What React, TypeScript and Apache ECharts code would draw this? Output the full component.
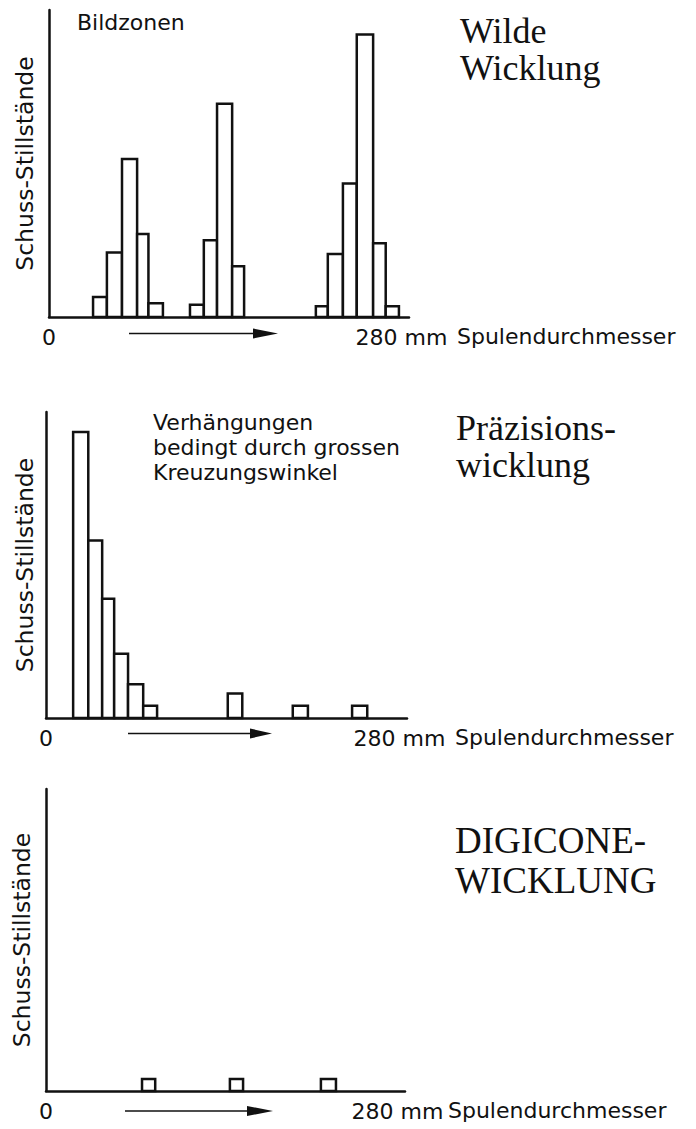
import React, { useEffect, useRef } from "react";
import * as echarts from "echarts";

// ---- Data (x in mm of coil diameter, heights in relative weft-stop counts) ----
const xTickLabels = ["0", "280 mm"];
const xAxisName = "Spulendurchmesser";
const yAxisName = "Schuss-Stillstände";

const panelTitles = ["Wilde\nWicklung", "Präzisions-\nwicklung", "DIGICONE-\nWICKLUNG"];

// Panel 1: Wilde Wicklung (three pattern zones)
const wildeFrom = [35, 46, 58, 70, 79, 112, 123, 133.5, 145.5, 212, 221.5, 233.5, 244.5, 257.5, 267.5];
const wildeTo = [46, 58, 70, 79, 90.5, 123, 133.5, 145.5, 155, 221.5, 233.5, 244.5, 257.5, 267.5, 278];
const wildeHeight = [6.5, 21, 51.5, 27, 4.5, 4, 25, 69.5, 16.5, 3.5, 20.5, 43.5, 92, 24, 3.5];

// Panel 2: Präzisionswicklung
const praezFrom = [21.5, 33.5, 44.5, 54, 65, 77, 144, 195.5, 242.5];
const praezTo = [33.5, 44.5, 54, 65, 77, 88, 155.5, 207.5, 254.5];
const praezHeight = [93.5, 58, 39, 21, 11, 4, 8, 4, 4];

// Panel 3: DIGICONE-Wicklung
const digiFrom = [76.5, 146.5, 219];
const digiTo = [87, 157, 231];
const digiHeight = [4, 4, 4];

const annotation1 = "Bildzonen";
const annotation2 = "Verhängungen\nbedingt durch grossen\nKreuzungswinkel";

const X_MAX = 286;
const Y_MAX = 100;

function rows(from: number[], to: number[], h: number[]) {
  return from.map((f, i) => [f, to[i], h[i]]);
}

const panelData = [
  rows(wildeFrom, wildeTo, wildeHeight),
  rows(praezFrom, praezTo, praezHeight),
  rows(digiFrom, digiTo, digiHeight),
];

// layout
const grids = [
  { left: 49, top: 10, width: 360, height: 307 },
  { left: 46, top: 412, width: 361, height: 306 },
  { left: 46, top: 789, width: 359, height: 305 },
];
const nameGapsX = [48, 48, 43];
const nameGapsY = [12, 9, 12];

const INK = "#111";
const SANS = "DejaVu Sans";
const SERIF = "Liberation Serif";

export default function App() {
  const ref = useRef<HTMLDivElement>(null);

  useEffect(() => {
    if (!ref.current) return;
    const chart = echarts.init(ref.current, undefined, { renderer: "svg" });

    const renderItem = (params: any, api: any) => {
      const x0 = api.value(0);
      const x1 = api.value(1);
      const h = api.value(2);
      const p0 = api.coord([x0, 0]);
      const p1 = api.coord([x1, h]);
      return {
        type: "rect",
        shape: { x: p0[0], y: p1[1], width: p1[0] - p0[0], height: p0[1] - p1[1] },
        style: { fill: "#fff", stroke: INK, lineWidth: 2.5 },
      };
    };

    const titleCenters = [
      { x: 460, y: 49.5, size: 36, lh: 37 },
      { x: 456, y: 446.5, size: 36, lh: 37 },
      { x: 455, y: 860, size: 37, lh: 40 },
    ];

    const arrows = [
      { x1: 129, x2: 256, y: 333.5, hb: 253, tip: 278 },
      { x1: 128, x2: 252, y: 733.5, hb: 250, tip: 272 },
      { x1: 125, x2: 250, y: 1111, hb: 247, tip: 273 },
    ];

    const graphic: any[] = [];
    titleCenters.forEach((t, i) => {
      graphic.push({
        type: "text",
        x: t.x,
        y: t.y,
        style: {
          text: panelTitles[i],
          fontFamily: SERIF,
          fontSize: t.size,
          lineHeight: t.lh,
          fill: INK,
          align: "left",
          verticalAlign: "middle",
        },
      });
    });
    arrows.forEach((a) => {
      graphic.push({
        type: "line",
        shape: { x1: a.x1, y1: a.y, x2: a.x2, y2: a.y },
        style: { stroke: INK, lineWidth: 1.6 },
      });
      graphic.push({
        type: "polygon",
        shape: { points: [[a.hb, a.y - 5], [a.tip, a.y], [a.hb, a.y + 5]] },
        style: { fill: INK },
      });
    });
    graphic.push({
      type: "text",
      x: 77,
      y: 22.4,
      style: { text: annotation1, fontFamily: SANS, fontSize: 22, fill: INK, align: "left", verticalAlign: "middle" },
    });
    graphic.push({
      type: "text",
      x: 153,
      y: 447.5,
      style: {
        text: annotation2,
        fontFamily: SANS,
        fontSize: 22,
        lineHeight: 25,
        fill: INK,
        align: "left",
        verticalAlign: "middle",
      },
    });

    const option: any = {
      animation: false,
      backgroundColor: "#fff",
      textStyle: { fontFamily: SANS },
      grid: grids,
      xAxis: grids.map((_, i) => ({
        type: "value",
        gridIndex: i,
        min: 0,
        max: X_MAX,
        interval: 280,
        axisLine: { show: true, onZero: false, lineStyle: { color: INK, width: 2.5 } },
        axisTick: { show: false },
        splitLine: { show: false },
        axisLabel: {
          margin: 9,
          fontSize: 22,
          color: INK,
          fontFamily: SANS,
          formatter: (v: number) => (v === 0 ? xTickLabels[0] : v === 280 ? xTickLabels[1] : ""),
        },
        name: xAxisName,
        nameLocation: "end",
        nameGap: nameGapsX[i],
        nameTextStyle: {
          fontSize: 22,
          color: INK,
          fontFamily: SANS,
          verticalAlign: "top",
          lineHeight: 38,
        },
      })),
      yAxis: grids.map((_, i) => ({
        type: "value",
        gridIndex: i,
        min: 0,
        max: Y_MAX,
        axisLine: { show: true, lineStyle: { color: INK, width: 2.5 } },
        axisTick: { show: false },
        axisLabel: { show: false },
        splitLine: { show: false },
        name: yAxisName,
        nameLocation: "middle",
        nameGap: nameGapsY[i],
        nameTextStyle: { fontSize: 23.5, color: INK, fontFamily: SANS },
      })),
      series: panelData.map((d, i) => ({
        type: "custom",
        xAxisIndex: i,
        yAxisIndex: i,
        renderItem,
        encode: { x: [0, 1], y: 2 },
        data: d,
        silent: true,
      })),
      graphic,
    };

    chart.setOption(option);
    return () => chart.dispose();
  }, []);

  return (
    <div
      ref={ref}
      style={{ position: "absolute", left: 0, top: 0, width: 696, height: 1129, background: "#fff" }}
    />
  );
}
